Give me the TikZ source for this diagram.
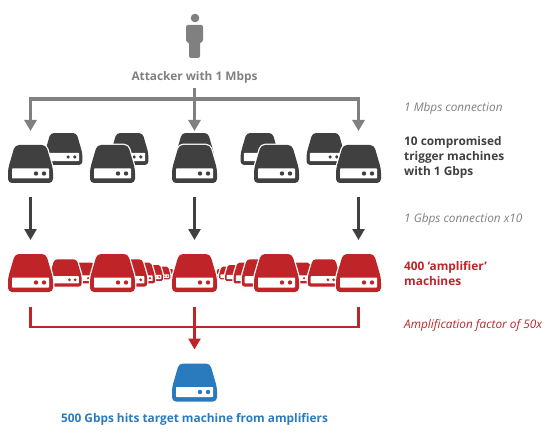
\documentclass[tikz,border=0pt]{standalone}
\usepackage{fontspec}
\setmainfont{Open Sans}
\usetikzlibrary{arrows.meta,calc,positioning}
\definecolor{linkgray}{HTML}{808080}
\definecolor{trigdark}{HTML}{404040}
\definecolor{ampred}{HTML}{BE2428}
\definecolor{targetblue}{HTML}{2A7BBE}
\tikzset{
	pics/drive/.style 2 args={
		code={
			\coordinate (-north) at (0,-19);
			\coordinate (-south) at (0,19);
			\fill[#1,rounded corners=#2pt,preaction={draw=white,line width=2.5pt}]
				(-22.5,19) -- (-22.5,5) -- (-15.5,-19) -- (15.5,-19) -- (22.5,5) -- (22.5,19) -- cycle;
			\fill[white,rounded corners=0.6pt] (-18.5,4.5) rectangle (18.5,14.5);
			\fill[#1] (5.5,9.5) circle (2.2);
			\fill[#1] (13.5,9.5) circle (2.2);
		}
	},
	heading/.style={
		font=\fontsize{11.85}{15}\selectfont\bfseries,
		align=left,
		inner sep=0pt
	},
	note/.style={
		font=\fontsize{11.8}{15}\selectfont\itshape,
		inner sep=0pt,
		anchor=west
	},
	link/.style={
		-{Triangle[length=11pt,width=12pt]},
		line width=2.6pt
	},
	graylink/.style={
		link,
		linkgray,
		line width=3.2pt
	}
}

\begin{document}
\begin{tikzpicture}[x=1pt,y=-1pt]
	\useasboundingbox (0,0) rectangle (548,438);

	%%% Attacker
	\fill[linkgray] (195,18) circle (4.3);
	\fill[linkgray,rounded corners=2pt]
		(186,42) -- (186,25) -- (203,25) -- (203,42) -- (200,42) -- (200,58) -- (189,58) -- (189,42) -- cycle;
	\node at (194.5,77) [heading,text=linkgray] (attacker) {Attacker with 1 Mbps};

	%%% Trigger machines
	%% Back row
	\pic[scale=0.84] at (63.5,149) {drive={trigdark}{3.5}};
	\pic[scale=0.84] at (129.5,149) {drive={trigdark}{3.5}};
	\pic[scale=0.84] at (195,149) {drive={trigdark}{3.5}};
	\pic[scale=0.84] at (259.5,149) {drive={trigdark}{3.5}};
	\pic[scale=0.84] at (325.5,149) {drive={trigdark}{3.5}};
	%% Front row
	\pic (trigleft) at (30.5,164) {drive={trigdark}{4}};
	\pic at (112.5,164) {drive={trigdark}{4}};
	\pic (trigmid) at (194.5,164) {drive={trigdark}{4}};
	\pic at (276.5,164) {drive={trigdark}{4}};
	\pic (trigright) at (358.5,164) {drive={trigdark}{4}};

	%%% Amplifier machines
	%% Far away ones
	\pic[scale=0.22] at (169,273) {drive={ampred}{1}};
	\pic[scale=0.33] at (163,273) {drive={ampred}{1.5}};
	\pic[scale=0.42] at (153.5,273) {drive={ampred}{1.5}};
	\pic[scale=0.55] at (142.5,273) {drive={ampred}{2}};
	\pic[scale=0.22] at (221,273) {drive={ampred}{1}};
	\pic[scale=0.33] at (226.5,273) {drive={ampred}{1.5}};
	\pic[scale=0.42] at (234.5,273) {drive={ampred}{1.5}};
	\pic[scale=0.55] at (246,273) {drive={ampred}{2}};
	\pic[scale=0.55] at (85,273) {drive={ampred}{2}};
	\pic[scale=0.55] at (301,273) {drive={ampred}{2}};
	%% Near ones
	\pic[scale=0.72] at (65.5,273) {drive={ampred}{3}};
	\pic[scale=0.72] at (131,273) {drive={ampred}{3}};
	\pic[scale=0.72] at (258,273) {drive={ampred}{3}};
	\pic[scale=0.72] at (324,273) {drive={ampred}{3}};
	%% Front row
	\pic (ampleft) at (30.5,273) {drive={ampred}{4}};
	\pic at (112.5,273) {drive={ampred}{4}};
	\pic (ampmid) at (194.5,273) {drive={ampred}{4}};
	\pic at (276.5,273) {drive={ampred}{4}};
	\pic (ampright) at (358.5,273) {drive={ampred}{4}};

	%%% Target
	\pic (target) at (194.5,382.5) {drive={targetblue}{4}};
	\node at (194.5,419) [heading,text=targetblue] (targetlabel) {500 Gbps hits target machine from amplifiers};

	%%% Labels
	\node at (404,108) [note,text=linkgray] (onembps) {1 Mbps connection};
	\node at (404,157) [heading,text=trigdark,anchor=west] (triglabel) {10 compromised\\trigger machines\\with 1 Gbps};
	\node at (404,219) [note,text=linkgray] (onegbps) {1 Gbps connection x10};
	\node at (404,273.5) [heading,text=ampred,anchor=west] (amplabel) {400 ‘amplifier’\\machines};
	\node at (404,325) [note,text=ampred] (factor) {Amplification factor of 50x};

	%%% Connections
	%% Attacker to triggers
	\coordinate (splitmid) at (attacker.south |- 0,99);
	\draw[graylink] ([yshift=-5pt]attacker.south) -- ([yshift=14pt]trigmid-north);
	\draw[graylink] (splitmid) -| ([yshift=14pt]trigleft-north);
	\draw[graylink] (splitmid) -| ([yshift=14pt]trigright-north);

	%% Triggers to amplifiers
	\draw[link,trigdark] ([yshift=-14pt]trigleft-south) -- ([yshift=14pt]ampleft-north);
	\draw[link,trigdark] ([yshift=-14pt]trigmid-south) -- ([yshift=14pt]ampmid-north);
	\draw[link,trigdark] ([yshift=-14pt]trigright-south) -- ([yshift=14pt]ampright-north);

	%% Amplifiers to target
	\draw[line width=2.6pt,ampred] ([yshift=-15pt]ampleft-south) |- (194.5,327) -| ([yshift=-15pt]ampright-south);
	\draw[link,ampred] ([yshift=-15pt]ampmid-south) -- ([yshift=14pt]target-north);
\end{tikzpicture}
\end{document}
